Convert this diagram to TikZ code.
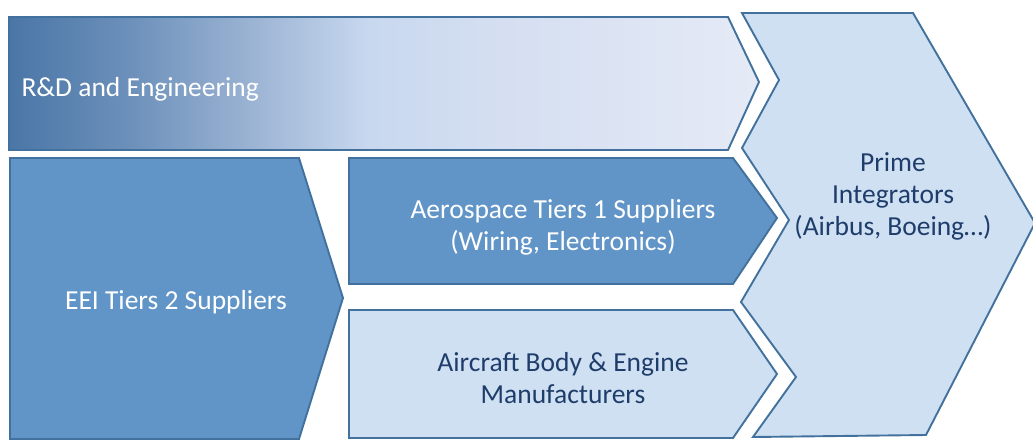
\documentclass[tikz,border=0pt]{standalone}
\usepackage{fontspec}
\setmainfont{Carlito}
\definecolor{edgeblue}{HTML}{41719C}
\definecolor{darkfill}{HTML}{6195C8}
\definecolor{lightfill}{HTML}{CFE0F2}
\definecolor{txtdark}{HTML}{1F3D6B}
\definecolor{gA}{HTML}{4A76A6}
\definecolor{gB}{HTML}{6C90BA}
\definecolor{gC}{HTML}{A0B7D6}
\definecolor{gD}{HTML}{C8D8EF}
\definecolor{gE}{HTML}{D5DFF1}
\definecolor{gF}{HTML}{E5EAF6}
\pgfdeclarehorizontalshading{rdshade}{100bp}{color(0bp)=(gA); color(25bp)=(gA); color(33bp)=(gB); color(42bp)=(gC); color(49bp)=(gD); color(58bp)=(gE); color(75bp)=(gF); color(100bp)=(gF)}
\tikzset{
  shapebox/.style={draw=edgeblue, line width=1.9pt, line join=miter},
  darkbox/.style={shapebox, fill=darkfill},
  lightbox/.style={shapebox, fill=lightfill},
  whitetext/.style={text=white, font=\fontsize{27.5}{32}\selectfont, align=center},
  bluetext/.style={text=txtdark, font=\fontsize{27.5}{32}\selectfont, align=center},
}
\begin{document}
\begin{tikzpicture}[x=1pt, y=-1pt]
\useasboundingbox (0,0) rectangle (1033,440);
% R&D band
\shade[shading=rdshade, draw=edgeblue, line width=1.9pt]
  (9,17) -- (728,17) -- (759,82) -- (728,150) -- (9,150) -- cycle;
\node[whitetext, anchor=west] (rd) at (18,89) {R\&D and Engineering};
% EEI Tier 2
\draw[darkbox] (10,158) -- (299,158) -- (343,298) -- (299,439) -- (10,439) -- cycle;
\node[whitetext] (eei) at (176,302) {EEI Tiers 2 Suppliers};
% Aerospace Tier 1
\draw[darkbox] (349,158) -- (733,158) -- (777,218) -- (733,284) -- (349,284) -- cycle;
\node[whitetext] (aero) at (563,227) {Aerospace Tiers 1 Suppliers\\(Wiring, Electronics)};
% Aircraft body
\draw[lightbox] (349,310) -- (733,310) -- (777,374) -- (733,438) -- (349,438) -- cycle;
\node[bluetext] (body) at (563,378) {Aircraft Body \& Engine\\Manufacturers};
% Prime integrators
\draw[lightbox] (742,13) -- (913,13) -- (1035,223) -- (926,435) -- (753,437) -- (796,377)
  -- (741,302) -- (789,220) -- (742,148) -- (779,80) -- cycle;
\node[bluetext] (prime) at (893,196) {Prime\\Integrators\\(Airbus, Boeing…)};
\end{tikzpicture}
\end{document}
